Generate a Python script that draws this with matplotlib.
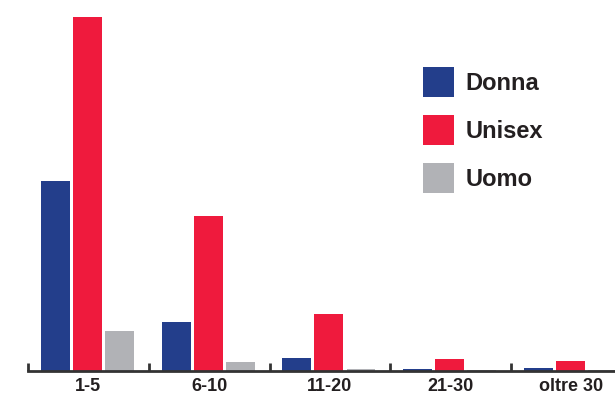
import numpy as np
import matplotlib
matplotlib.use('Agg')
import matplotlib.pyplot as plt

categories = ['1-5', '6-10', '11-20', '21-30', 'oltre 30']
series = ['Donna', 'Unisex', 'Uomo']
donna = [190, 49, 13, 2.3, 3]
unisex = [354, 155, 57, 12, 10]
uomo = [40, 9, 2, 1, 0.8]
colors = ['#233e8b', '#ef1a3d', '#b1b2b6']

plt.rcParams['font.family'] = ['Liberation Sans', 'DejaVu Sans']

fig = plt.figure(figsize=(6.15, 3.95), dpi=100)
ax = fig.add_axes([28 / 615, 24 / 395, 1 - 28 / 615, 371 / 395])

x = np.arange(len(categories))
width = 0.24
step = 0.265
for k, (vals, name) in enumerate(zip([donna, unisex, uomo], series)):
    ax.bar(x + (k - 1) * step - 0.008, vals, width, color=colors[k], label=name)

ax.set_xlim(-0.5, 4.36)
ax.set_ylim(0, 371)

for s in ['top', 'right', 'left']:
    ax.spines[s].set_visible(False)
ax.spines['bottom'].set_linewidth(2)
ax.spines['bottom'].set_color('#333333')
ax.set_yticks([])

ax.set_xticks(x)
ax.set_xticklabels(categories, fontsize=13, fontweight='bold', color='#231f20')
ax.tick_params(axis='x', which='major', length=0, pad=5)
ax.set_xticks(np.arange(len(categories)) - 0.5, minor=True)
ax.tick_params(axis='x', which='minor', direction='in', length=6, width=2,
               color='#333333')

leg = ax.legend(loc='upper left', bbox_to_anchor=(423 / 615, 1 - 67 / 395),
                bbox_transform=fig.transFigure, frameon=False,
                prop={'size': 17, 'weight': 'bold'},
                handlelength=1.3, handleheight=1.55, handletextpad=0.5,
                labelspacing=0.78, borderaxespad=0, borderpad=0)
for t in leg.get_texts():
    t.set_color('#231f20')

fig.savefig('out.png', dpi=100)
